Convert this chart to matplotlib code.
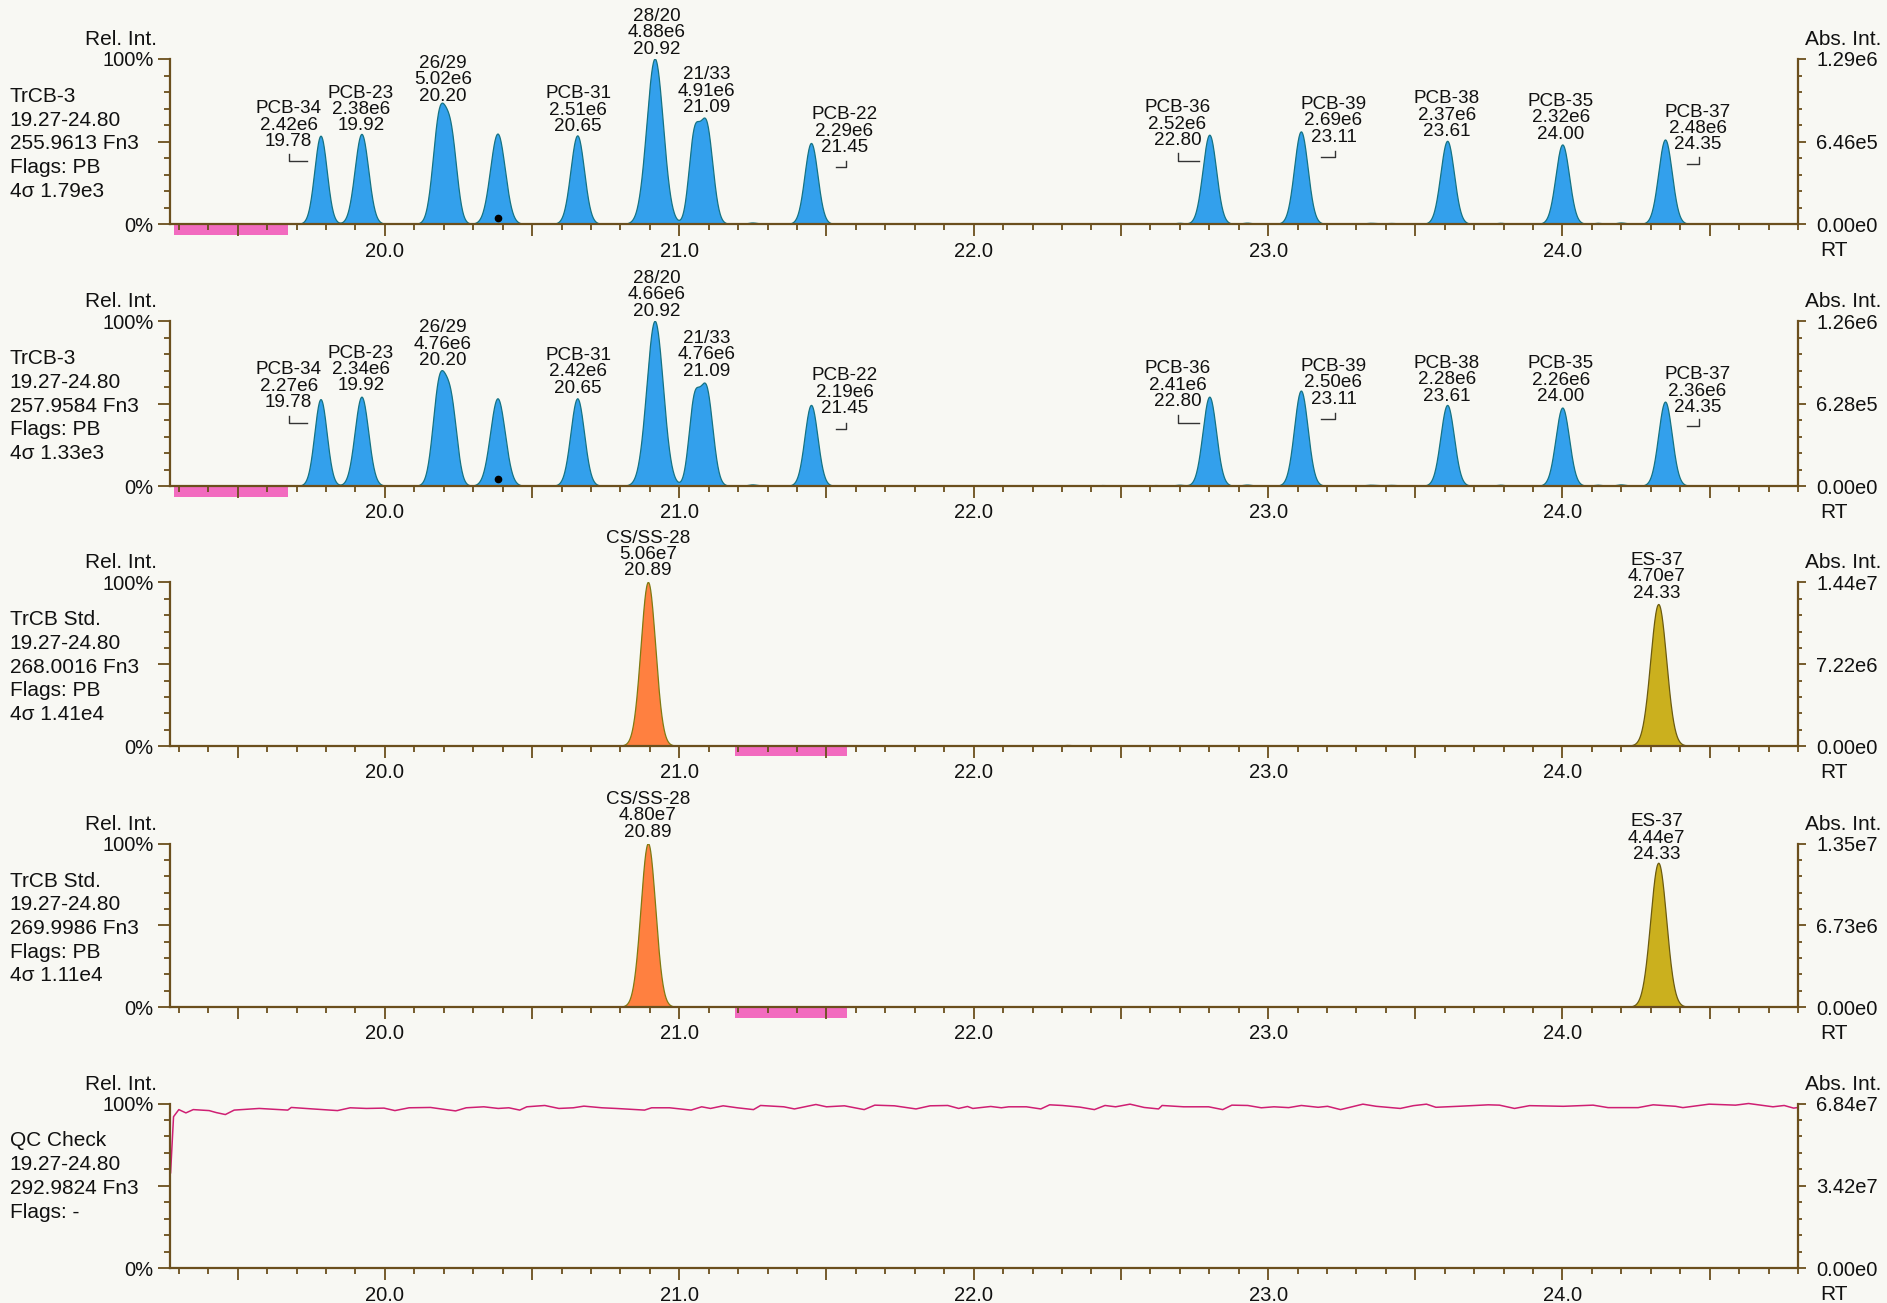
import numpy as np
import matplotlib
matplotlib.use("Agg")
import matplotlib.pyplot as plt
from matplotlib.ticker import FixedLocator, MultipleLocator, FixedFormatter
from matplotlib.patches import Rectangle

plt.rcParams['font.family'] = ['Liberation Sans', 'DejaVu Sans']

# ---------------- data ----------------
RT_MIN, RT_MAX = 19.27, 24.80

panel_names = ['TrCB-3', 'TrCB-3', 'TrCB Std.', 'TrCB Std.', 'QC Check']
panel_ranges = ['19.27-24.80'] * 5
panel_masses = ['255.9613 Fn3', '257.9584 Fn3', '268.0016 Fn3', '269.9986 Fn3', '292.9824 Fn3']
panel_flags = ['Flags: PB', 'Flags: PB', 'Flags: PB', 'Flags: PB', 'Flags: -']
panel_noise = ['4σ 1.79e3', '4σ 1.33e3', '4σ 1.41e4', '4σ 1.11e4', '']
abs_max_labels = ['1.29e6', '1.26e6', '1.44e7', '1.35e7', '6.84e7']
abs_mid_labels = ['6.46e5', '6.28e5', '7.22e6', '6.73e6', '3.42e7']
x_tick_labels = ['20.0', '21.0', '22.0', '23.0', '24.0']

# native peaks (apex RT, rel. height %, width in min)
p1_rt = [19.783, 19.922, 20.186, 20.226, 20.384, 20.655, 20.918, 21.050, 21.092, 21.449,
         22.802, 23.113, 23.610, 24.001, 24.350,
         21.25, 21.34, 22.44, 22.62, 22.70, 22.93, 23.35, 23.42, 23.79, 24.12, 24.20]
p1_h = [53.3, 54.4, 64.0, 48.0, 54.6, 53.5, 100.0, 48.0, 60.0, 48.9,
        53.9, 55.9, 50.2, 48.0, 51.0,
        0.8, 0.3, 0.4, 0.4, 0.6, 0.7, 0.6, 0.5, 0.6, 0.6, 0.8]
p1_w = [0.021, 0.023, 0.022, 0.020, 0.025, 0.023, 0.028, 0.018, 0.022, 0.022,
        0.023, 0.023, 0.023, 0.023, 0.023,
        0.015, 0.015, 0.015, 0.015, 0.015, 0.015, 0.02, 0.02, 0.015, 0.015, 0.015]

p2_rt = p1_rt
p2_h = [52.5, 54.0, 61.5, 45.0, 53.0, 53.0, 100.0, 46.0, 58.5, 49.0,
        54.0, 57.7, 49.0, 47.4, 51.0,
        0.8, 0.3, 0.4, 0.4, 0.6, 0.7, 0.6, 0.5, 0.6, 0.6, 0.8]
p2_w = p1_w

p3_rt = [20.895, 24.327, 22.32]
p3_h = [100.0, 86.5, 0.4]
p3_w = [0.025, 0.027, 0.015]
p4_rt = [20.895, 24.327]
p4_h = [100.0, 88.0]
p4_w = [0.025, 0.027]

# peak annotations
lab_names = ['PCB-34', 'PCB-23', '26/29', 'PCB-31', '28/20', '21/33', 'PCB-22',
             'PCB-36', 'PCB-39', 'PCB-38', 'PCB-35', 'PCB-37']
lab_rts = ['19.78', '19.92', '20.20', '20.65', '20.92', '21.09', '21.45',
           '22.80', '23.11', '23.61', '24.00', '24.35']
lab1_areas = ['2.42e6', '2.38e6', '5.02e6', '2.51e6', '4.88e6', '4.91e6', '2.29e6',
              '2.52e6', '2.69e6', '2.37e6', '2.32e6', '2.48e6']
lab2_areas = ['2.27e6', '2.34e6', '4.76e6', '2.42e6', '4.66e6', '4.76e6', '2.19e6',
              '2.41e6', '2.50e6', '2.28e6', '2.26e6', '2.36e6']
lab_x = [19.673, 19.919, 20.197, 20.656, 20.922, 21.092, 21.561,
         22.692, 23.222, 23.608, 23.994, 24.459]
lab1_y = [60.0, 69.5, 87.3, 69.0, 115.8, 80.5, 56.4, 60.6, 62.5, 66.0, 64.5, 58.0]
lab2_y = [60.6, 70.8, 86.1, 69.3, 116.0, 79.6, 56.9, 61.3, 62.8, 64.5, 64.2, 57.7]

std_names = ['CS/SS-28', 'ES-37']
std_rts = ['20.89', '24.33']
std3_areas = ['5.06e7', '4.70e7']
std4_areas = ['4.80e7', '4.44e7']
std_x = [20.893, 24.32]
std_y = [117.0, 103.3]

# integration bracket marks (vertical RT, horizontal end RT, top %, bottom %)
br_xv = [19.675, 21.567, 22.695, 23.226, 24.465]
br_xh = [19.735, 21.532, 22.767, 23.179, 24.422]
br_top = [42.6, 38.5, 43.0, 44.6, 40.6]
br_bot = [38.4, 34.9, 38.5, 41.0, 36.5]

dot_rt = [20.384, 20.383]
dot_y = [4.0, 4.4]

pink_12 = (19.285, 19.67)
pink_34 = (21.188, 21.568)

qc_rt = [19.272, 19.282, 19.300, 19.324, 19.349, 19.403, 19.427, 19.458, 19.488, 19.573,
         19.670, 19.682, 19.755, 19.839, 19.882, 19.937, 19.997, 20.034, 20.082, 20.155,
         20.191, 20.240, 20.276, 20.336, 20.385, 20.421, 20.458, 20.482, 20.543, 20.591,
         20.640, 20.676, 20.737, 20.785, 20.882, 20.906, 20.967, 21.040, 21.076, 21.106,
         21.149, 21.197, 21.252, 21.276, 21.355, 21.391, 21.464, 21.500, 21.561, 21.628,
         21.664, 21.731, 21.804, 21.852, 21.912, 21.949, 21.979, 21.997, 22.058, 22.094,
         22.119, 22.179, 22.228, 22.258, 22.301, 22.361, 22.410, 22.446, 22.482, 22.531,
         22.579, 22.628, 22.640, 22.713, 22.798, 22.846, 22.877, 22.931, 22.977, 23.020,
         23.070, 23.113, 23.170, 23.202, 23.246, 23.322, 23.367, 23.449, 23.494, 23.538,
         23.570, 23.646, 23.748, 23.786, 23.837, 23.888, 24.003, 24.104, 24.155, 24.257,
         24.308, 24.384, 24.409, 24.498, 24.588, 24.632, 24.715, 24.753, 24.785, 24.798]
qc_val = [58.0, 92.0, 96.3, 94.3, 96.3, 95.7, 94.5, 93.3, 96.0, 97.0,
          96.0, 97.6, 96.7, 95.7, 97.4, 97.0, 97.2, 95.7, 97.4, 97.6,
          96.7, 95.5, 97.4, 98.0, 97.0, 97.4, 96.0, 98.0, 98.8, 97.0,
          97.4, 98.4, 97.4, 97.0, 96.0, 97.4, 97.4, 96.0, 98.0, 97.0,
          98.6, 97.4, 96.3, 98.8, 98.0, 96.7, 99.4, 98.0, 98.6, 96.3,
          99.0, 98.6, 96.7, 98.6, 98.8, 97.0, 98.2, 97.0, 98.2, 97.4,
          98.0, 98.0, 96.7, 99.2, 98.8, 97.8, 96.3, 98.8, 98.0, 99.6,
          97.6, 96.7, 98.8, 98.0, 98.0, 96.3, 99.0, 98.8, 97.4, 98.0,
          97.5, 98.8, 97.7, 98.3, 96.3, 99.6, 98.3, 97.0, 98.7, 99.6,
          97.7, 98.3, 99.2, 99.0, 97.0, 98.7, 98.3, 99.0, 97.5, 97.5,
          99.2, 98.3, 97.5, 99.6, 99.0, 100.0, 98.0, 98.8, 97.2, 97.5]

# ---------------- style ----------------
BG = '#F8F8F3'
AXC = '#6B4F1D'
TXT = '#111111'
BLUE = '#33A0EC'
BLUE_E = '#157383'
ORANGE = '#FF8040'
ORANGE_E = '#7F7A12'
OLIVE = '#CBB01E'
OLIVE_E = '#6B5B10'
PINK = '#F26BBF'
QCC = '#CF1F73'

W, H = 1887, 1303
XL, XR = 170, 1798
TOPS = [59.0, 321.3, 582.4, 843.6, 1103.5]
BOTS = [224.3, 486.2, 746.1, 1007.2, 1268.4]
PT = 0.72  # points per pixel at dpi 100

fig = plt.figure(figsize=(W / 100, H / 100), dpi=100, facecolor=BG)

xx = np.linspace(RT_MIN, RT_MAX, 5531)


def trace(rts, hs, ws):
    y = np.zeros_like(xx)
    for r, h, w in zip(rts, hs, ws):
        y += h * np.exp(-0.5 * ((xx - r) / w) ** 2)
    return y


def txt(ax, s, dx_px, dy_px, ha='left', va='baseline', size=15, ref=(0, 1), coords='axes fraction'):
    ax.annotate(s, xy=ref, xycoords=coords, xytext=(dx_px * PT, dy_px * PT),
                textcoords='offset points', ha=ha, va=va, fontsize=size, color=TXT,
                annotation_clip=False)


axes = []
for i in range(5):
    top, bot = TOPS[i], BOTS[i]
    ax = fig.add_axes([XL / W, 1 - bot / H, (XR - XL) / W, (bot - top) / H])
    ax.patch.set_visible(False)
    ax.set_xlim(RT_MIN, RT_MAX)
    ax.set_ylim(0, 100)
    for s in ['top', 'right']:
        ax.spines[s].set_visible(False)
    for s in ['left', 'bottom']:
        ax.spines[s].set_color(AXC)
        ax.spines[s].set_linewidth(1.6)
    # x ticks
    majors = [19.5 + 0.5 * k for k in range(11)]
    ax.xaxis.set_major_locator(FixedLocator(majors))
    ax.xaxis.set_major_formatter(FixedFormatter(
        [x_tick_labels[int(m) - 20] if abs(m - round(m)) < 1e-9 else '' for m in majors]))
    ax.xaxis.set_minor_locator(MultipleLocator(0.1))
    ax.tick_params(axis='x', which='major', direction='out', length=8.4, width=1.3,
                   color=AXC, labelsize=14.5, labelcolor=TXT, pad=4)
    ax.tick_params(axis='x', which='minor', direction='out', length=4.2, width=1.3, color=AXC)
    # left y ticks
    ax.yaxis.set_major_locator(FixedLocator([0, 50, 100]))
    ax.yaxis.set_major_formatter(FixedFormatter(['0%', '', '100%']))
    ax.yaxis.set_minor_locator(MultipleLocator(10))
    ax.tick_params(axis='y', which='major', direction='out', length=8.3, width=1.3,
                   color=AXC, labelsize=14.5, labelcolor=TXT, pad=3.5)
    ax.tick_params(axis='y', which='minor', direction='out', length=4.3, width=1.3, color=AXC)

    # right axis
    ax2 = ax.twinx()
    ax2.set_ylim(0, 100)
    for s in ['top', 'left', 'bottom']:
        ax2.spines[s].set_visible(False)
    ax2.spines['right'].set_color(AXC)
    ax2.spines['right'].set_linewidth(1.6)
    ax2.yaxis.set_major_locator(FixedLocator([0, 50, 100]))
    ax2.yaxis.set_major_formatter(FixedFormatter(['0.00e0', abs_mid_labels[i], abs_max_labels[i]]))
    ax2.yaxis.set_minor_locator(MultipleLocator(10))
    ax2.tick_params(axis='y', which='major', direction='out', length=5.6, width=1.3,
                    color=AXC, labelsize=14.5, labelcolor=TXT, pad=7.5)
    ax2.tick_params(axis='y', which='minor', direction='out', length=3.2, width=1.3, color=AXC)

    # axis titles
    txt(ax, 'Rel. Int.', -13, 14, ha='right')
    txt(ax, 'Abs. Int.', 1635, 14, ha='left', ref=(0, 1))
    txt(ax, 'RT', 1664, -32, ha='center', va='baseline', ref=(0, 0))

    # info block
    info = [panel_names[i], panel_ranges[i], panel_masses[i], panel_flags[i], panel_noise[i]]
    for k, line in enumerate(info):
        if line:
            txt(ax, line, -160.4, -43 - 23.7 * k, ha='left')
    axes.append(ax)


def draw_peaks(ax, y, fc, ec):
    ax.fill_between(xx, 0, y, facecolor=fc, edgecolor='none', zorder=1.2)
    ax.plot(xx, y, color=ec, lw=0.9, zorder=1.3)


def peak_label(ax, x, y, lines, size=13.6):
    for k, s in enumerate(lines):
        ax.annotate(s, xy=(x, y), xycoords='data', xytext=(0, (16.4 - 16.4 * k) * PT),
                    textcoords='offset points', ha='center', va='center', fontsize=size,
                    color=TXT, annotation_clip=False)


# panels 1 & 2
for i, (rts, hs, ws, areas, ly) in enumerate([(p1_rt, p1_h, p1_w, lab1_areas, lab1_y),
                                                (p2_rt, p2_h, p2_w, lab2_areas, lab2_y)]):
    ax = axes[i]
    draw_peaks(ax, trace(rts, hs, ws), BLUE, BLUE_E)
    for k in range(len(lab_names)):
        peak_label(ax, lab_x[k], ly[k], [lab_names[k], areas[k], lab_rts[k]])
    for k in range(len(br_xv)):
        ax.plot([br_xv[k], br_xv[k], br_xh[k]], [br_top[k], br_bot[k], br_bot[k]],
                color='#333333', lw=1.0, zorder=3)
    ax.plot([dot_rt[i]], [dot_y[i]], 'o', color='black', ms=4.5, zorder=4)
    ax.add_patch(Rectangle((pink_12[0], -6.3), pink_12[1] - pink_12[0], 5.8,
                           facecolor=PINK, edgecolor='none', clip_on=False, zorder=1))

# panels 3 & 4
for i, (rts, hs, ws, areas) in enumerate([(p3_rt, p3_h, p3_w, std3_areas),
                                           (p4_rt, p4_h, p4_w, std4_areas)]):
    ax = axes[2 + i]
    y_cs = trace([rts[0]], [hs[0]], [ws[0]])
    y_es = trace(rts[1:], hs[1:], ws[1:])
    draw_peaks(ax, y_cs, ORANGE, ORANGE_E)
    es_mask = xx > 22.0
    ax.fill_between(xx, 0, np.where(es_mask, y_es, 0), facecolor=OLIVE, edgecolor='none', zorder=1.2)
    ax.plot(xx, y_es, color=OLIVE_E, lw=0.9, zorder=1.3)
    for k in range(2):
        peak_label(ax, std_x[k], std_y[k], [std_names[k], areas[k], std_rts[k]])
    ax.add_patch(Rectangle((pink_34[0], -6.3), pink_34[1] - pink_34[0], 5.8,
                           facecolor=PINK, edgecolor='none', clip_on=False, zorder=1))

# panel 5: QC trace
axes[4].plot(qc_rt, qc_val, color=QCC, lw=1.1, zorder=2, clip_on=False)

fig.savefig('out.png', dpi=100, facecolor=BG)
